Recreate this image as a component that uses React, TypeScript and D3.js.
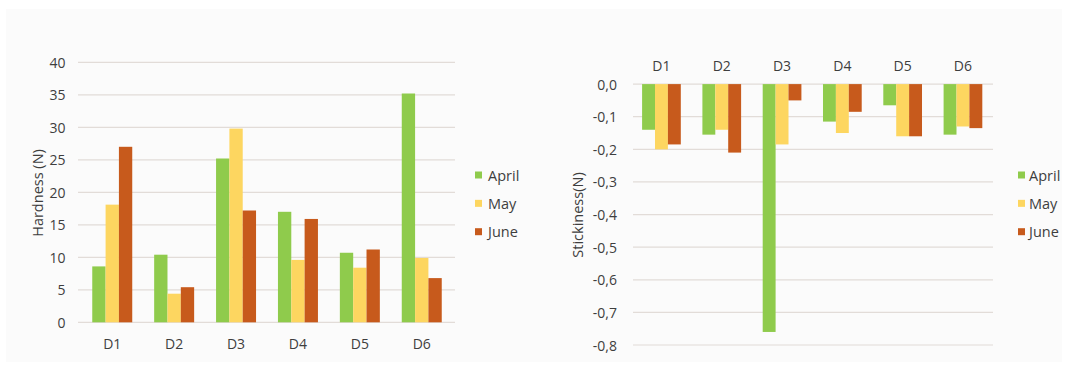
import React from "react";
import * as d3 from "d3";

// Sample categories and monthly series
const categories = ["D1", "D2", "D3", "D4", "D5", "D6"];
const months = ["April", "May", "June"];

const hardnessApril = [8.6, 10.4, 25.2, 17.0, 10.7, 35.2];
const hardnessMay = [18.1, 4.4, 29.8, 9.6, 8.4, 9.9];
const hardnessJune = [27.0, 5.4, 17.2, 15.9, 11.2, 6.8];
const hardnessTicks = [0, 5, 10, 15, 20, 25, 30, 35, 40];

const stickinessApril = [-0.14, -0.155, -0.76, -0.115, -0.065, -0.155];
const stickinessMay = [-0.2, -0.14, -0.185, -0.15, -0.16, -0.13];
const stickinessJune = [-0.185, -0.21, -0.05, -0.085, -0.16, -0.135];
const stickinessTicks = [0, -0.1, -0.2, -0.3, -0.4, -0.5, -0.6, -0.7, -0.8];

const colors = ["#8fcb4c", "#fdd660", "#c75a1c"];
const textColor = "#3e3e3e";
const gridColor = "#e2dcd8";
const font = "'Open Sans', sans-serif";

type PanelProps = {
  series: number[][];
  ticks: number[];
  yDomain: [number, number];
  yRange: [number, number];
  xRange: [number, number];
  gridX: [number, number];
  tickRight: number;
  tickFormat: (v: number) => string;
  catLabelY: number;
  title: string;
  titleX: number;
  titleY: number;
  legendX: number;
  legendTextX: number;
  paddingInner: number;
  paddingOuter: number;
};

function Panel(p: PanelProps) {
  const x = d3
    .scaleBand<string>()
    .domain(categories)
    .range(p.xRange)
    .paddingInner(p.paddingInner)
    .paddingOuter(p.paddingOuter);
  const xs = d3.scaleBand<string>().domain(months).range([0, x.bandwidth()]);
  const y = d3.scaleLinear().domain(p.yDomain).range(p.yRange);
  const legendY = d3.scalePoint<string>().domain(months).range([175, 231.7]);

  return (
    <g>
      {p.ticks.map((t) => (
        <g key={t}>
          <line
            x1={p.gridX[0]}
            x2={p.gridX[1]}
            y1={y(t)}
            y2={y(t)}
            stroke={gridColor}
            strokeWidth={1.2}
          />
          <text
            x={p.tickRight}
            y={y(t)}
            textAnchor="end"
            dominantBaseline="central"
            fontSize={14}
            fill={textColor}
          >
            {p.tickFormat(t)}
          </text>
        </g>
      ))}
      {categories.map((c, i) => (
        <g key={c}>
          {p.series.map((s, k) => {
            const v = s[i];
            const y0 = y(0);
            const y1 = y(v);
            return (
              <rect
                key={months[k]}
                x={(x(c) ?? 0) + (xs(months[k]) ?? 0)}
                y={Math.min(y0, y1)}
                width={xs.bandwidth()}
                height={Math.abs(y1 - y0)}
                fill={colors[k]}
              />
            );
          })}
          <text
            x={(x(c) ?? 0) + x.bandwidth() / 2}
            y={p.catLabelY}
            textAnchor="middle"
            dominantBaseline="central"
            fontSize={14}
            fill={textColor}
          >
            {c}
          </text>
        </g>
      ))}
      <text
        transform={`translate(${p.titleX},${p.titleY}) rotate(-90)`}
        textAnchor="middle"
        dominantBaseline="central"
        fontSize={14.5}
        fill={textColor}
      >
        {p.title}
      </text>
      {months.map((m, k) => (
        <g key={m}>
          <rect
            x={p.legendX}
            y={(legendY(m) ?? 0) - 3.5}
            width={7}
            height={7}
            fill={colors[k]}
          />
          <text
            x={p.legendTextX}
            y={legendY(m) ?? 0}
            dominantBaseline="central"
            fontSize={14.5}
            fill={textColor}
          >
            {m}
          </text>
        </g>
      ))}
    </g>
  );
}

const comma = (v: number) => v.toFixed(1).replace(".", ",");

export default function App() {
  return (
    <div style={{ position: "absolute", left: 0, top: 0 }}>
      <svg width={1068} height={370} style={{ display: "block", fontFamily: font }}>
        <rect x={0} y={0} width={1068} height={370} fill="#ffffff" />
        <rect x={6} y={9} width={1056} height={353} fill="#fbfbfb" />
        <Panel
          series={[hardnessApril, hardnessMay, hardnessJune]}
          ticks={hardnessTicks}
          yDomain={[0, 40]}
          yRange={[322.3, 62.3]}
          xRange={[81.3, 452.7]}
          gridX={[78, 455]}
          tickRight={65.5}
          tickFormat={(v) => String(v)}
          catLabelY={343}
          title="Hardness (N)"
          titleX={37}
          titleY={193}
          legendX={475}
          legendTextX={488}
          paddingInner={0.354}
          paddingOuter={0.177}
        />
        <Panel
          series={[stickinessApril, stickinessMay, stickinessJune]}
          ticks={stickinessTicks}
          yDomain={[0, -0.8]}
          yRange={[84.1, 345]}
          xRange={[631.3, 993.1]}
          gridX={[633, 993]}
          tickRight={617}
          tickFormat={comma}
          catLabelY={65}
          title="Stickiness(N)"
          titleX={577}
          titleY={215}
          legendX={1018}
          legendTextX={1029}
          paddingInner={0.358}
          paddingOuter={0.179}
        />
      </svg>
    </div>
  );
}
